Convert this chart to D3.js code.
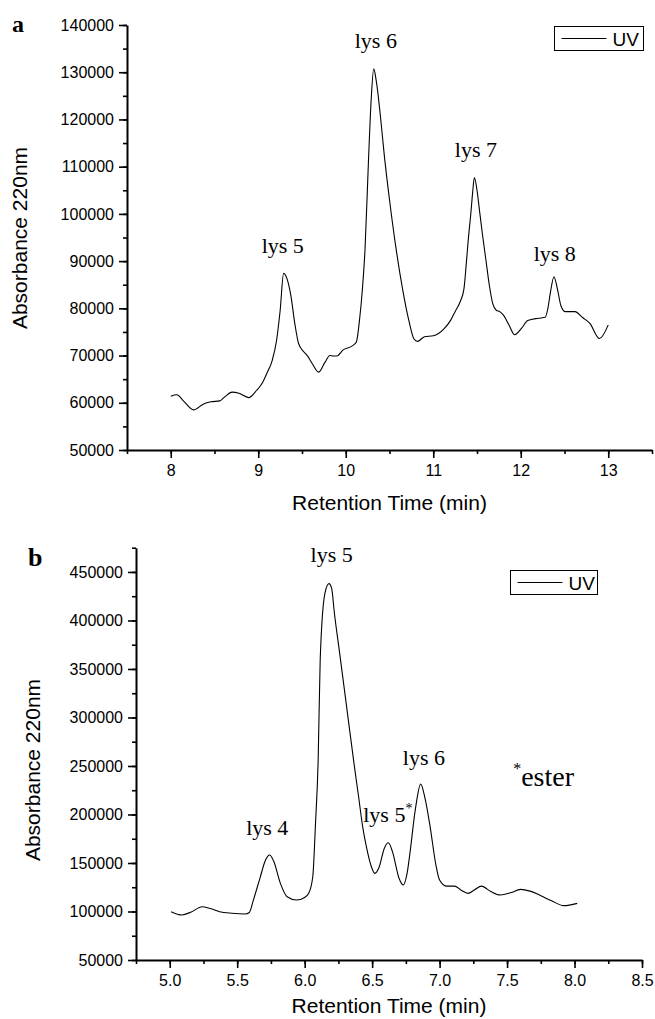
<!DOCTYPE html>
<html><head><meta charset="utf-8">
<script src="https://cdn.jsdelivr.net/npm/d3@7"></script>
<style>body{margin:0;background:#fff}svg{display:block}</style>
</head><body><svg id="c" width="655" height="1019"></svg>
<script>
// ---- Panel a data ----
const timeA = [8.00, 8.07, 8.15, 8.26, 8.37, 8.46, 8.56, 8.62, 8.70, 8.78, 8.89, 8.98, 9.05, 9.10, 9.16, 9.21, 9.25, 9.29, 9.33, 9.37, 9.42, 9.46, 9.52, 9.56, 9.62, 9.69, 9.76, 9.82, 9.86, 9.90, 9.97, 10.07, 10.12, 10.16, 10.19, 10.22, 10.26, 10.29, 10.32, 10.35, 10.40, 10.44, 10.50, 10.58, 10.65, 10.72, 10.78, 10.82, 10.90, 11.00, 11.12, 11.20, 11.25, 11.31, 11.35, 11.38, 11.40, 11.43, 11.45, 11.47, 11.50, 11.53, 11.56, 11.60, 11.64, 11.68, 11.72, 11.76, 11.80, 11.87, 11.93, 12.01, 12.08, 12.20, 12.28, 12.31, 12.34, 12.38, 12.42, 12.46, 12.51, 12.62, 12.71, 12.79, 12.90, 13.00];
const absA = [61400, 61700, 60300, 58500, 59700, 60200, 60400, 61300, 62250, 62000, 61100, 62600, 64300, 66300, 69000, 73300, 79500, 87400, 86200, 83000, 76500, 72600, 70800, 70000, 68200, 66500, 68500, 70000, 69900, 69900, 71200, 72000, 72800, 78000, 84000, 92400, 111400, 124000, 130700, 128000, 120000, 112500, 103000, 92000, 84000, 77500, 73500, 73000, 74000, 74200, 75600, 77500, 79300, 81500, 84000, 90000, 94500, 100200, 104500, 107700, 105000, 100500, 96000, 90500, 85000, 81000, 79600, 79300, 78600, 76300, 74400, 75800, 77400, 77900, 78100, 80000, 83500, 86700, 84000, 80500, 79300, 79300, 78000, 76800, 73600, 76500];
const xTicksA = [8, 9, 10, 11, 12, 13];
const yTicksA = [50000, 60000, 70000, 80000, 90000, 100000, 110000, 120000, 130000, 140000];
const labelTextA = ["lys 5", "lys 6", "lys 7", "lys 8"];
const labelTimeA = [9.28, 10.344, 11.487, 12.389];
const labelAbsA = [91700, 135170, 112080, 90040];

// ---- Panel b data ----
const timeB = [5.01, 5.09, 5.16, 5.24, 5.30, 5.37, 5.46, 5.56, 5.59, 5.62, 5.67, 5.71, 5.74, 5.77, 5.82, 5.87, 5.94, 6.00, 6.03, 6.06, 6.08, 6.10, 6.115, 6.15, 6.18, 6.20, 6.22, 6.26, 6.31, 6.37, 6.40, 6.43, 6.46, 6.49, 6.52, 6.55, 6.59, 6.62, 6.65, 6.70, 6.73, 6.76, 6.78, 6.82, 6.86, 6.89, 6.93, 6.97, 7.00, 7.05, 7.11, 7.16, 7.21, 7.26, 7.31, 7.38, 7.45, 7.53, 7.60, 7.67, 7.74, 7.83, 7.92, 8.02];
const absB = [99800, 96400, 99500, 104900, 103000, 99800, 98200, 97400, 99000, 111800, 135000, 153000, 158200, 152000, 129000, 115200, 111800, 114500, 118700, 135800, 190000, 256000, 359000, 428000, 438000, 433000, 408000, 365500, 312000, 248000, 218000, 187300, 165000, 148000, 139300, 145000, 165000, 170800, 162000, 134000, 127300, 140000, 159900, 205000, 231300, 218000, 187300, 150000, 132400, 126200, 126200, 122000, 118700, 122500, 126200, 120500, 117000, 119500, 122800, 121000, 117000, 111000, 106000, 108400];
const xTicksB = [5.0, 5.5, 6.0, 6.5, 7.0, 7.5, 8.0, 8.5];
const yTicksB = [50000, 100000, 150000, 200000, 250000, 300000, 350000, 400000, 450000];
const labelTextB = ["lys 5", "lys 4", "lys 6"];
const labelTimeB = [6.2, 5.723, 6.884];
const labelAbsB = [460000, 178760, 250860];

const seriesName = "UV";
const xTitle = "Retention Time (min)";
const yTitle = "Absorbance 220nm";

const svg = d3.select("#c");
const SANS = "'Liberation Sans', Arial, sans-serif";
const SERIF = "'Liberation Serif', 'Times New Roman', serif";

function range(a, b, s) { const r = []; for (let v = a; v <= b + s * 1e-6; v += s) r.push(+v.toFixed(6)); return r; }

function panel(o) {
  const x = d3.scaleLinear().domain(o.xDom).range([o.left, o.right]);
  const y = d3.scaleLinear().domain(o.yDom).range([o.bottom, o.top]);
  const g = svg.append("g");

  // minor ticks
  g.append("g").attr("transform", `translate(0,${o.bottom})`)
    .call(d3.axisBottom(x).tickValues(o.xMinor).tickSize(4).tickSizeOuter(0).tickFormat(""))
    .call(s => s.select(".domain").remove());
  g.append("g").attr("transform", `translate(${o.left},0)`)
    .call(d3.axisLeft(y).tickValues(o.yMinor).tickSize(4).tickSizeOuter(0).tickFormat(""))
    .call(s => s.select(".domain").remove());

  g.append("g").attr("transform", `translate(0,${o.bottom})`)
    .call(d3.axisBottom(x).tickValues(o.xTicks).tickSize(8).tickSizeOuter(0).tickPadding(7).tickFormat(o.xFmt));
  g.append("g").attr("transform", `translate(${o.left},0)`)
    .call(d3.axisLeft(y).tickValues(o.yTicks).tickSize(8).tickSizeOuter(0).tickPadding(5).tickFormat(d3.format("d")));
  g.selectAll(".tick line").attr("stroke", "#000").attr("stroke-width", 1.6);
  g.selectAll(".domain").attr("stroke", "#000").attr("stroke-width", 2);
  g.selectAll(".tick text").attr("font-family", SANS).attr("font-size", 16).attr("fill", "#000");

  // curve
  const line = d3.line().x((d, i) => x(o.t[i])).y((d, i) => y(o.v[i])).curve(d3.curveMonotoneX);
  g.append("path").datum(o.v).attr("d", line).attr("fill", "none").attr("stroke", "#000").attr("stroke-width", 1.1);

  // titles
  g.append("text").attr("x", (o.left + o.right) / 2).attr("y", o.xTitleY).attr("text-anchor", "middle")
    .attr("font-family", SANS).attr("font-size", 21).text(xTitle);
  g.append("text").attr("transform", `translate(${o.yTitleX},${o.yTitleY}) rotate(-90)`).attr("text-anchor", "middle")
    .attr("font-family", SANS).attr("font-size", 21).text(yTitle);

  // panel letter
  g.append("text").attr("x", o.letterX).attr("y", o.letterY).attr("font-family", SERIF).attr("font-weight", "bold")
    .attr("font-size", o.letterSize).text(o.letter);

  // peak labels
  o.labels.forEach((txt, i) => {
    g.append("text").attr("x", x(o.labelT[i])).attr("y", y(o.labelV[i])).attr("text-anchor", "middle")
      .attr("font-family", SERIF).attr("font-size", 22).text(txt);
  });

  // legend
  const L = o.legend;
  g.append("rect").attr("x", L.x).attr("y", L.y).attr("width", L.w).attr("height", L.h)
    .attr("fill", "#fff").attr("stroke", "#000").attr("stroke-width", 1);
  g.append("line").attr("x1", L.x + 7).attr("x2", L.x + 52).attr("y1", L.y + L.h / 2).attr("y2", L.y + L.h / 2)
    .attr("stroke", "#000").attr("stroke-width", 1.1);
  g.append("text").attr("x", L.x + 58).attr("y", L.y + L.h / 2 + 7).attr("font-family", SANS).attr("font-size", 19).text(seriesName);
  return { x, y, g };
}

panel({
  xDom: [7.5, 13.5], yDom: [50000, 140000], left: 127, right: 652, top: 25, bottom: 450,
  xTicks: xTicksA, yTicks: yTicksA, xMinor: range(7.5, 13.5, 0.5), yMinor: range(50000, 140000, 5000),
  xFmt: d3.format("d"), t: timeA, v: absA,
  xTitleY: 510, yTitleX: 27, yTitleY: 238,
  letter: "a", letterX: 12, letterY: 32, letterSize: 24,
  labels: labelTextA, labelT: labelTimeA, labelV: labelAbsA,
  legend: { x: 554.5, y: 26.5, w: 89, h: 24 }
});

const pb = panel({
  xDom: [4.75, 8.5], yDom: [50000, 475000], left: 136, right: 642, top: 547.7, bottom: 960,
  xTicks: xTicksB, yTicks: yTicksB, xMinor: range(4.75, 8.5, 0.25), yMinor: range(50000, 475000, 25000),
  xFmt: d3.format(".1f"), t: timeB, v: absB,
  xTitleY: 1013, yTitleX: 40, yTitleY: 770,
  letter: "b", letterX: 28, letterY: 566, letterSize: 26,
  labels: labelTextB, labelT: labelTimeB, labelV: labelAbsB,
  legend: { x: 510.5, y: 570.5, w: 87, h: 24 }
});

// special annotations in panel b: lys 5* and *ester
const t1 = pb.g.append("text").attr("x", pb.x(6.434)).attr("y", pb.y(192150))
  .attr("font-family", SERIF).attr("font-size", 22);
t1.append("tspan").text("lys 5");
t1.append("tspan").attr("font-size", 14).attr("dy", -9).text("*");
const t2 = pb.g.append("text").attr("x", pb.x(7.545)).attr("y", pb.y(229240))
  .attr("font-family", SERIF).attr("font-size", 28);
t2.append("tspan").attr("font-size", 16).attr("dy", -12).text("*");
t2.append("tspan").attr("dy", 12).text("ester");
</script></body></html>
